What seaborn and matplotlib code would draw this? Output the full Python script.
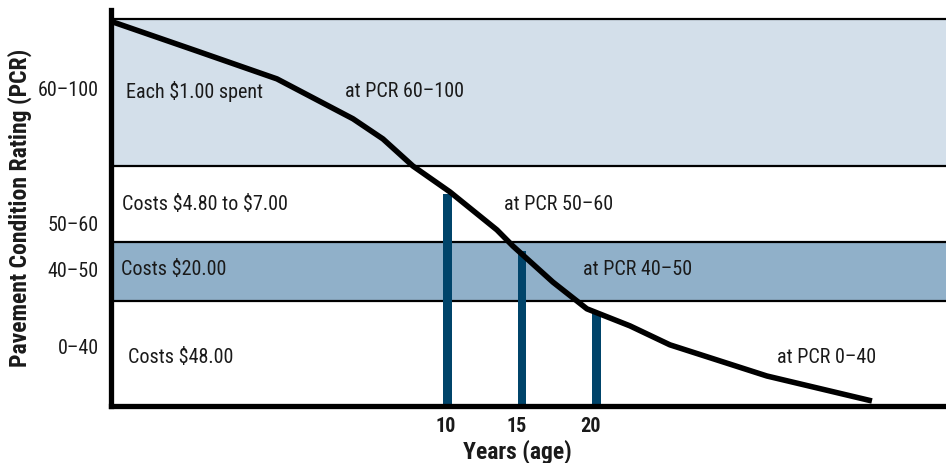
import matplotlib
matplotlib.use("Agg")
import matplotlib.pyplot as plt
import matplotlib.transforms as mtransforms
import seaborn as sns
import pandas as pd

# Pavement deterioration curve: age (years) vs. condition rating
curve_years = [-12.45, -6.81, -1.44, 3.66, 5.67, 7.68, 10.17, 13.32,
               14.40, 17.08, 19.36, 22.25, 24.93, 31.44, 38.49]
curve_rating = [99.2, 91.7, 84.5, 74.2, 69.0, 62.0, 55.3, 45.5,
                41.3, 32.0, 25.1, 20.7, 15.8, 7.75, 1.3]

# Rating at the three marked ages
bar_years = [10, 15, 20]
bar_rating = [54.8, 40.1, 24.3]

# Condition bands (bottom to top)
band_edges = [0, 27.1, 42.4, 62.0, 100]
band_names = ["0–40", "40–50", "50–60", "60–100"]
band_costs = ["Costs $48.00", "Costs $20.00", "Costs $4.80 to $7.00", "Each $1.00 spent"]
band_pcr = ["at PCR 0–40", "at PCR 40–50", "at PCR 50–60", "at PCR 60–100"]

sns.set_theme(style="white")
plt.rcParams["font.family"] = ["Roboto Condensed", "DejaVu Sans"]

band_colors = ["#ffffff", "#90b0c9", "#ffffff", "#d3dfea"]
text_color = "#1a1a1a"
fs = 14.5

fig = plt.figure(figsize=(9.46, 4.64), dpi=100)
ax = fig.add_axes([111 / 946, 57 / 464, 835 / 946, 396 / 464])
ax.set_xlim(-12.58, 43.46)
ax.set_ylim(0, 102.3)

# Shaded bands with black borders
for lo, hi, c in zip(band_edges[:-1], band_edges[1:], band_colors):
    ax.axhspan(lo, hi, color=c, lw=0, zorder=0)
for e in band_edges[1:]:
    ax.axhline(e, color="black", lw=1.6, zorder=1)

# Age markers
ax.bar(bar_years, bar_rating, width=0.56, color="#00446a", edgecolor="none",
       linewidth=0, zorder=2)

# Deterioration curve
df = pd.DataFrame({"year": curve_years, "rating": curve_rating})
sns.lineplot(data=df, x="year", y="rating", color="black", lw=4,
             ax=ax, zorder=3, solid_joinstyle="round", solid_capstyle="butt")

# Band annotations
cost_pos = [(-11.44, 12.9), (-11.91, 35.4), (-11.85, 52.2), (-11.58, 81.4)]
pcr_pos = [(32.11, 12.9), (19.09, 35.4), (13.79, 52.2), (3.12, 81.4)]
for txt, (x, y) in zip(band_costs, cost_pos):
    ax.text(x, y, txt, fontsize=fs, color=text_color, va="center", ha="left",
            parse_math=False, zorder=4)
for txt, (x, y) in zip(band_pcr, pcr_pos):
    ax.text(x, y, txt, fontsize=fs, color=text_color, va="center", ha="left",
            parse_math=False, zorder=4)

# Axes styling
ax.set_yticks([15.5, 35.4, 47.5, 82.4])
ax.set_yticklabels(band_names)
ax.set_xticks(bar_years)
ax.set_xticklabels([str(y) for y in bar_years])
ax.tick_params(axis="both", length=0, labelsize=fs, colors=text_color)
ax.tick_params(axis="y", pad=9)
ax.tick_params(axis="x", pad=7)
# year labels sit slightly left of their markers
for lbl, dx in zip(ax.get_xticklabels(), [-2, -5, -6]):
    lbl.set_fontweight("bold")
    lbl.set_transform(lbl.get_transform() +
                      mtransforms.ScaledTranslation(dx / 100, 0, fig.dpi_scale_trans))
ax.set_xlabel("")
ax.set_ylabel("")

for side in ["top", "right"]:
    ax.spines[side].set_visible(False)
for side in ["left", "bottom"]:
    ax.spines[side].set_linewidth(3.8)
    ax.spines[side].set_color("black")
    ax.spines[side].set_capstyle("projecting")
    ax.spines[side].set_zorder(5)

fig.text(517 / 946, 1 - 452 / 464, "Years (age)", fontsize=17, fontweight="bold",
         ha="center", va="center", color=text_color)
fig.text(20 / 946, 1 - 208 / 464, "Pavement Condition Rating (PCR)", fontsize=17,
         fontweight="bold", rotation=90, ha="center", va="center", color=text_color)

fig.savefig("out.png", dpi=100)
